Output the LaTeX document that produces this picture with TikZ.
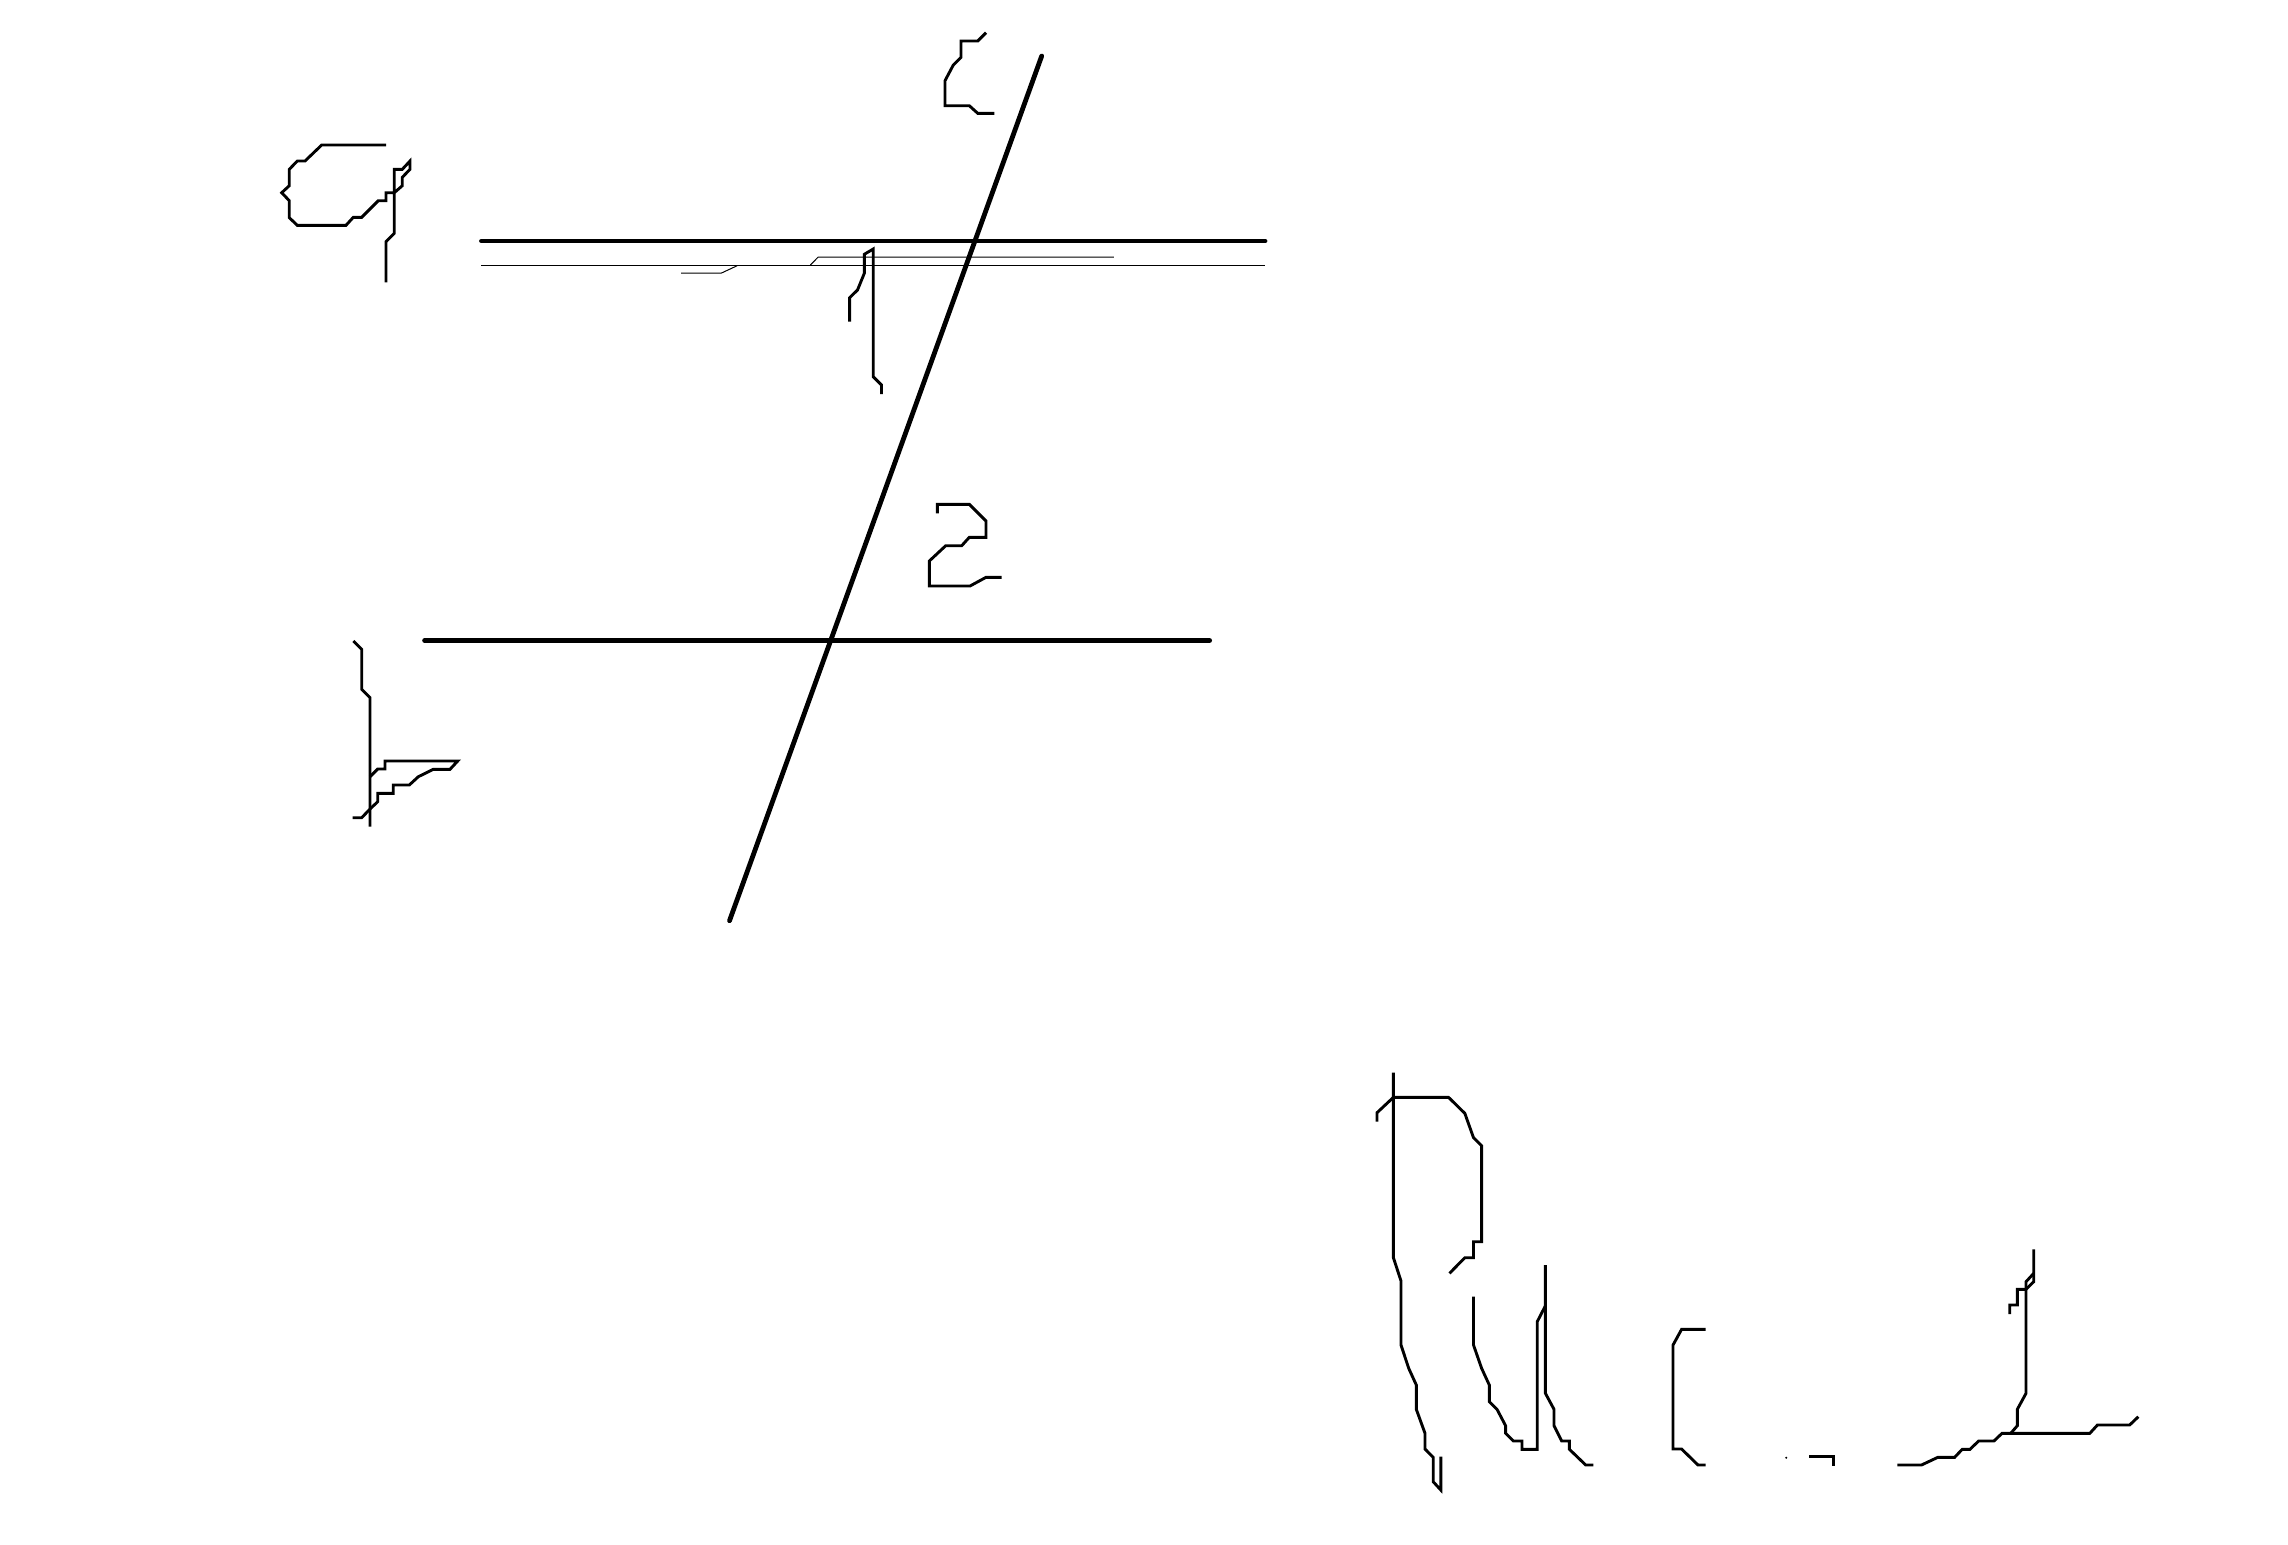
\documentclass[tikz,border=0pt]{standalone}
\begin{document}
\begin{tikzpicture}[x=0.25pt,y=-0.25pt,
  thickline/.style={line width=1.2pt,line cap=round},
  glyph/.style={line width=0.72pt,line join=miter},
  thinline/.style={line width=0.25pt}]
\useasboundingbox[fill=white] (0,0) rectangle (2288,1544);
% main lines
\draw[thickline] (481.5,241) -- (1265,241);
\draw[thickline] (424.6,640.5) -- (1209.6,640.5);
\draw[thickline] (1041.7,56) -- (729.5,920.7);
% thin lines
\draw[thinline] (481,265) -- (1265,265);
\draw[thinline] (810.4,265) -- (818.2,257) -- (1113.8,257);
\draw[thinline] (681.2,273) -- (721.5,273) -- (737.2,265.7);
% glyph top-left
\draw[glyph] (386,145) -- (321.7,145) -- (305,161) -- (297.3,161) -- (289.3,169.3) -- (289.3,185.7) -- (281.7,192.7) -- (289.3,200.7) -- (289.3,217.7) -- (297.3,225.3) -- (346,225.3) -- (353.3,217.3) -- (361.7,217.3) -- (378.3,200.7) -- (386,200.7) -- (386,192.7) -- (394.3,192.7) -- (402.3,185.7) -- (402.3,177.3) -- (410,169.3) -- (410,161) -- (402.3,169.3) -- (394.3,169.3) -- (394.3,233.3) -- (386,241.7) -- (386,282.3);
% glyph top
\draw[glyph] (986,32.7) -- (977.7,41) -- (961,41) -- (961,57.3) -- (953.3,65) -- (945,80.7) -- (945,105.7) -- (969.3,105.7) -- (977.7,113.3) -- (994.3,113.3);
% glyph 1
\draw[glyph] (849.6,321.7) -- (849.6,297.7) -- (857.5,290) -- (864.3,273.3) -- (864.3,254.3) -- (873.2,249) -- (873.2,376.7) -- (881.5,385) -- (881.5,394);
% glyph 2
\draw[glyph] (937.3,513.3) -- (937.3,504.3) -- (969.3,504.3) -- (986,521) -- (986,537.3) -- (969.3,537.3) -- (961.7,545.7) -- (945.7,545.7) -- (929.3,561) -- (929.3,586) -- (970,586) -- (986,577.3) -- (1001.7,577.3);
% glyph bottom-left
\draw[glyph] (353.3,641) -- (361.7,649.3) -- (361.7,689.3) -- (370,697.7) -- (370,826.7);
\draw[glyph] (352.7,817.7) -- (361.7,817.7) -- (370,809) -- (377.7,801.7) -- (377.7,793.3) -- (393.3,793.3) -- (393.3,785) -- (409.3,785) -- (418.3,776.7) -- (433.3,769.3) -- (450,769.3) -- (457.7,761) -- (385,761) -- (385,769) -- (377.7,769) -- (370,776.7);
% bottom-right scribbles
\draw[glyph] (1393.4,1072.7) -- (1393.4,1257.7) -- (1401,1281) -- (1401,1345) -- (1408.7,1368.3) -- (1416.3,1385) -- (1416.3,1409.3) -- (1425,1433.3) -- (1425,1449) -- (1433.2,1457.3) -- (1433.2,1481.7) -- (1440.8,1490) -- (1440.8,1456.7);
\draw[glyph] (1377,1121.7) -- (1377,1112.7) -- (1393.4,1097.3) -- (1448.5,1097.3) -- (1464.8,1113.3) -- (1473.5,1137.7) -- (1481.6,1145.7) -- (1481.6,1241.7) -- (1473.5,1241.7) -- (1473.5,1257.7) -- (1464.8,1257.7) -- (1449.5,1273.3);
\draw[glyph] (1473.5,1296.7) -- (1473.5,1345) -- (1481.6,1368.3) -- (1489.3,1385) -- (1489.3,1401.7) -- (1497,1409.3) -- (1505.6,1425.7) -- (1505.6,1433.3) -- (1513.3,1441) -- (1522,1441) -- (1522,1449.3) -- (1537.2,1449.3) -- (1537.2,1321.7) -- (1545.4,1305.7) -- (1545.4,1265);
\draw[glyph] (1545.4,1305.7) -- (1545.4,1393.3) -- (1554,1409.3) -- (1554,1425.7) -- (1561.7,1441) -- (1569.4,1441) -- (1569.4,1449.3) -- (1585.7,1465) -- (1593.4,1465);
\draw[glyph] (1705.6,1329.3) -- (1681.6,1329.3) -- (1673,1345) -- (1673,1449) -- (1681.6,1449) -- (1698,1465) -- (1705.6,1465);
\fill (1786.2,1457.7) circle (1.2);
\draw[glyph] (1809.2,1456.7) -- (1833.2,1456.7) -- (1833.2,1466);
\draw[glyph] (1897.4,1465) -- (1921.4,1465) -- (1937.8,1457.3) -- (1954.6,1457.3) -- (1962.2,1449.3) -- (1969.9,1449.3) -- (1978.6,1441) -- (1993.9,1441) -- (2002,1433.3) -- (2089.8,1433.3) -- (2097.4,1425) -- (2129.6,1425) -- (2138.3,1416.7);
\draw[glyph] (2010.7,1433.3) -- (2017.3,1425.7) -- (2017.3,1409.3) -- (2026,1393.3) -- (2026,1281.7) -- (2033.7,1273.3);
\draw[glyph] (2009.7,1314) -- (2009.7,1305) -- (2017.3,1305) -- (2017.3,1289.3) -- (2026,1289.3) -- (2033.7,1281.7) -- (2033.7,1249.3);
\end{tikzpicture}
\end{document}
